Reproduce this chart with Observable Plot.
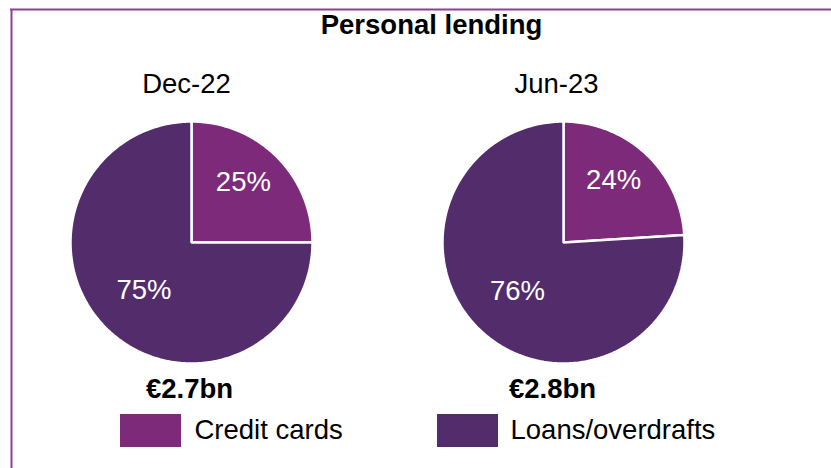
<!DOCTYPE html>
<html>
<head>
<meta charset="utf-8">
<script src="https://cdn.jsdelivr.net/npm/d3@7"></script>
<script src="https://cdn.jsdelivr.net/npm/@observablehq/plot@0.6"></script>
<style>
  html, body { margin: 0; padding: 0; background: #fff; }
  svg { display: block; font-family: "Liberation Sans", Arial, sans-serif; }
</style>
</head>
<body>
<div id="chart"></div>
<script>
// ---- data ----
const title = "Personal lending";
const periods = ["Dec-22", "Jun-23"];
const totals = ["€2.7bn", "€2.8bn"];
const categories = ["Credit cards", "Loans/overdrafts"];
const creditCardsPct = [25, 24];
const loansPct = [75, 76];

// ---- styles / layout ----
const colors = ["#7E2A7A", "#532C6C"];
const borderColor = "#8E3F95";
const W = 831, H = 468;
const pieCx = [191, 563];
const pieCy = 242;
const R = 121;
const fs = 27.5;
const labelRadius = [0.66, 0.555];
const labelAngleFrac = [0.45, 0.5];

// build slice polygons from the percentages
const slices = [];
const labels = [];
periods.forEach((p, i) => {
  const vals = [creditCardsPct[i], loansPct[i]];
  const total = d3.sum(vals);
  let cum = 0;
  vals.forEach((v, j) => {
    const a0 = cum / total * 2 * Math.PI;
    cum += v;
    const a1 = cum / total * 2 * Math.PI;
    const key = p + "|" + categories[j];
    const n = Math.max(2, Math.ceil((a1 - a0) / (Math.PI / 180)));
    slices.push({key, cat: j, x: pieCx[i], y: pieCy});
    for (let k = 0; k <= n; k++) {
      const a = a0 + (a1 - a0) * k / n;
      slices.push({key, cat: j, x: pieCx[i] + R * Math.sin(a), y: pieCy - R * Math.cos(a)});
    }
    const am = a0 + (a1 - a0) * labelAngleFrac[j];
    const lr = R * labelRadius[j];
    labels.push({text: v + "%", x: pieCx[i] + lr * Math.sin(am), y: pieCy - lr * Math.cos(am)});
  });
});

const headers = periods.map((p, i) => ({text: p, x: pieCx[i] - 5 - (i ? 2 : 0), y: 84}));
const totalLabels = totals.map((t, i) => ({text: t, x: pieCx[i] - 2 - (i ? 9 : 0), y: 389}));
const legend = categories.map((c, i) => ({
  text: c, x1: [120, 437][i], x2: [181, 498][i], y1: 414, y2: 447, tx: [194, 510][i], ty: 430, color: colors[i]
}));

const plot = Plot.plot({
  width: W,
  height: H,
  margin: 0,
  x: {domain: [0, W], range: [0, W], axis: null},
  y: {domain: [0, H], range: [0, H], axis: null},
  marks: [
    // border (left and top edges)
    Plot.ruleX([11], {y1: 9, y2: H, stroke: borderColor, strokeWidth: 2}),
    Plot.ruleY([9], {x1: 10, x2: W, stroke: borderColor, strokeWidth: 2}),
    // pie slices
    ...categories.map((c, j) => Plot.line(slices.filter(d => d.cat === j), {
      x: "x", y: "y", z: "key", curve: "linear-closed",
      fill: colors[j], stroke: "white", strokeWidth: 2.5, strokeLinejoin: "miter"
    })),
    // slice labels
    Plot.text(labels, {x: "x", y: "y", text: "text", fill: "white", fontSize: fs}),
    // title
    Plot.text([title], {x: 431, y: 25, text: d => d, fontSize: fs, fontWeight: "bold", fill: "black"}),
    // period headers
    Plot.text(headers, {x: "x", y: "y", text: "text", fontSize: fs, fill: "black"}),
    // totals
    Plot.text(totalLabels, {x: "x", y: "y", text: "text", fontSize: fs, fontWeight: "bold", fill: "black"}),
    // legend
    Plot.rect(legend, {x1: "x1", x2: "x2", y1: "y1", y2: "y2", fill: "color"}),
    Plot.text(legend, {x: "tx", y: "ty", text: "text", textAnchor: "start", fontSize: fs, fill: "black"})
  ]
});
document.getElementById("chart").appendChild(plot);
</script>
</body>
</html>
